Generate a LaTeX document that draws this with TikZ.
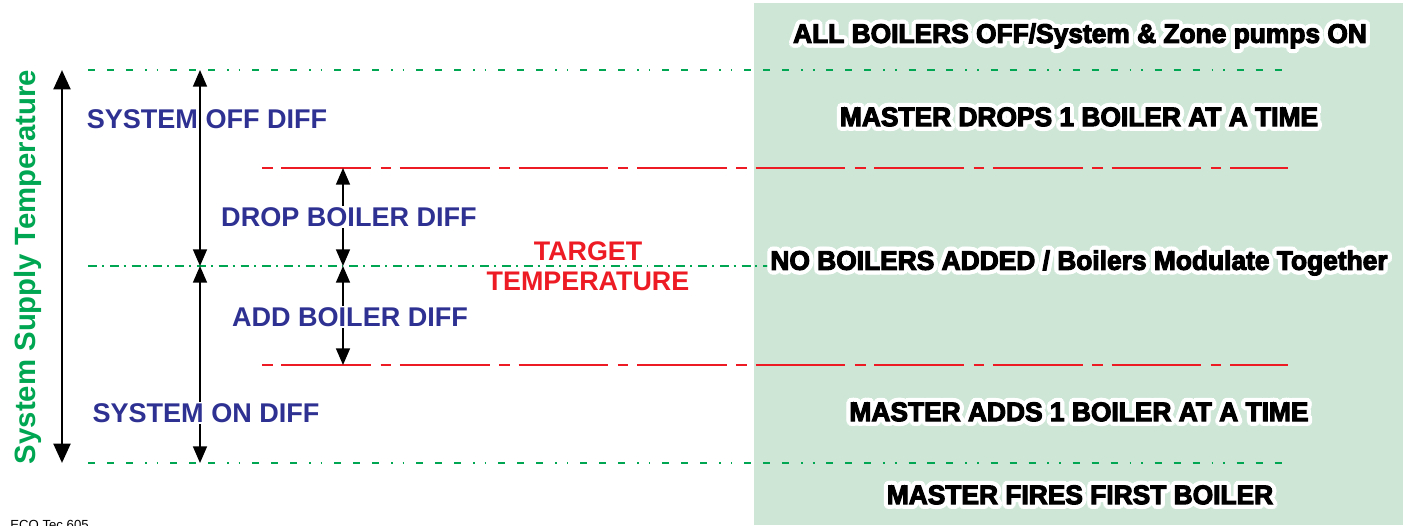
\documentclass[tikz,border=0pt]{standalone}
\usepackage{fontspec}
\setsansfont{Liberation Sans}
\newfontfamily\heavyfont[FakeBold=4, FakeStretch=0.98]{Liberation Sans}
\usepackage{contour}
\contourlength{2.4pt}
\contournumber{16}
\usetikzlibrary{arrows.meta}

\definecolor{panelgreen}{RGB}{205,230,214}
\definecolor{linegreen}{RGB}{0,166,81}
\definecolor{diffblue}{RGB}{46,49,146}
\definecolor{targetred}{RGB}{237,28,36}

\begin{document}
\begin{tikzpicture}[x=0.02cm, y=-0.02cm,
    limitline/.style={linegreen, line width=1.1pt,
      dash pattern=on 4pt off 6.8pt on 4pt off 6.8pt on 4pt off 6.8pt on 0.9pt off 5.7pt on 0.9pt off 6.8pt},
    targetline/.style={linegreen, line width=1.1pt, dash pattern=on 5.1pt off 2.8pt on 1.1pt off 3.4pt},
    stageline/.style={targetred, line width=1.1pt, dash pattern=on 6pt off 5pt on 51pt off 5.5pt},
    difflabel/.style={font=\sffamily\bfseries\fontsize{15.4}{18}\selectfont, text=diffblue, inner sep=1pt},
    stagelabel/.style={font=\heavyfont\bfseries\fontsize{15.3}{17}\selectfont, text=black, inner sep=0pt},
    diffarrow/.style={line width=0.8pt, {Triangle[length=9.5pt, width=8pt]}-{Triangle[length=9.5pt, width=8pt]}}]
  \useasboundingbox (0,0) rectangle (1406,525);

  % Panel
  \fill[panelgreen] (754,3) rectangle (1403,525);

  % Levels
  \coordinate (hiL) at (88,70);   \coordinate (hiR) at (1285,70);
  \coordinate (dropL) at (262,168); \coordinate (dropR) at (1288,168);
  \coordinate (tgtL) at (88,266);  \coordinate (tgtR) at (770,266);
  \coordinate (addL) at (262,365); \coordinate (addR) at (1288,365);
  \coordinate (loL) at (88,463);   \coordinate (loR) at (1285,463);

  \draw[limitline] (hiL) -- (hiR);
  \draw[stageline] (dropL) -- (dropR);
  \draw[targetline] (tgtL) -- (tgtR);
  \draw[stageline] (addL) -- (addR);
  \draw[limitline] (loL) -- (loR);

  % Axis
  \coordinate (axT) at (62,70);
  \coordinate (axB) at (62,463);
  \draw[line width=1.7pt, {Triangle[length=11pt, width=9.5pt]}-{Triangle[length=11pt, width=9.5pt]}] (axT) -- (axB);
  \node[rotate=90, font=\sffamily\bfseries\fontsize{16.7}{20}\selectfont, text=linegreen] (axis) at (28,267) {System Supply Temperature};

  % Differentials
  \coordinate (offT) at (200,70);
  \coordinate (offB) at (200,266);
  \coordinate (onB) at (200,463);
  \coordinate (dropT) at (343,168);
  \coordinate (midB) at (343,266);
  \coordinate (addT) at (343,365);
  \draw[diffarrow] (offT) -- (offB);
  \draw[diffarrow] (offB) -- (onB);
  \draw[diffarrow] (dropT) -- (midB);
  \draw[diffarrow] (midB) -- (addT);

  \node[difflabel] (offdiff) at (207,119) {SYSTEM OFF DIFF};
  \node[difflabel, fill=white] (dropdiff) at (349,217) {DROP BOILER DIFF};
  \node[difflabel, fill=white] (adddiff) at (350,317) {ADD BOILER DIFF};
  \node[difflabel, fill=white] (ondiff) at (206,413) {SYSTEM ON DIFF};

  \node[difflabel, text=targetred, align=center, font=\sffamily\bfseries\fontsize{15.3}{17}\selectfont] (target) at (588,266) {TARGET\\TEMPERATURE};

  % Stages
  \node[stagelabel] (allOff) at (1080,38) {\contour{white}{ALL BOILERS OFF/System \& Zone pumps ON}};
  \node[stagelabel] (masterDrops) at (1079,119) {\contour{white}{MASTER DROPS 1 BOILER AT A TIME}};
  \node[stagelabel] (noAdded) at (1079,265) {\contour{white}{NO BOILERS ADDED / Boilers Modulate Together}};
  \node[stagelabel] (masterAdds) at (1079,414) {\contour{white}{MASTER ADDS 1 BOILER AT A TIME}};
  \node[stagelabel] (masterFires) at (1080,497) {\contour{white}{MASTER FIRES FIRST BOILER}};

  \node[anchor=north west, inner sep=0pt, font=\sffamily\fontsize{7.5}{9}\selectfont] (eco) at (10,520) {ECO Tec 605};
\end{tikzpicture}
\end{document}
